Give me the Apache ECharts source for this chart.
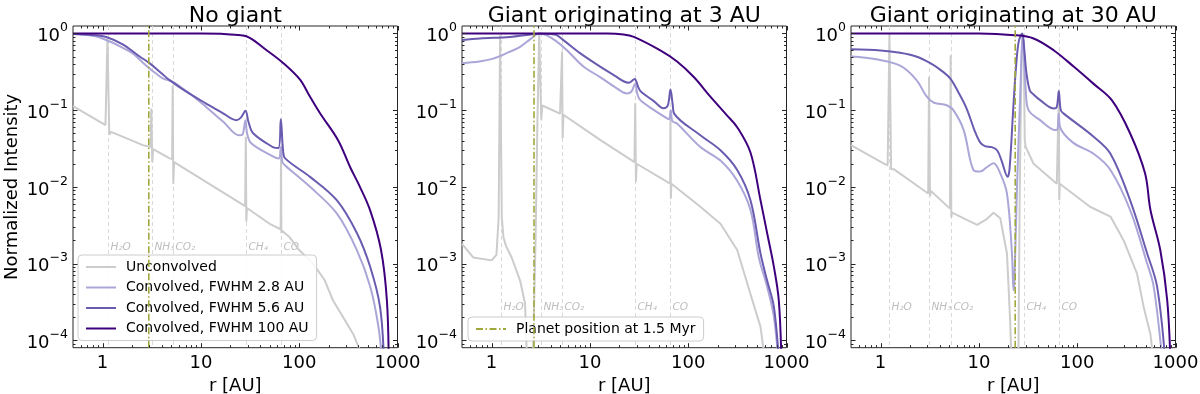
<!DOCTYPE html>
<html>
<head>
<meta charset="utf-8">
<script src="https://cdn.jsdelivr.net/npm/echarts@6.0.0/dist/echarts.min.js"></script>
<style>
  html, body { margin: 0; padding: 0; background: #fff; }
  #chart { width: 1200px; height: 394px; }
</style>
</head>
<body>
<div id="chart"></div>
<script>
// panel titles and legend names
const panelTitles = ['No giant', 'Giant originating at 3 AU', 'Giant originating at 30 AU'];
const curveNames = ['Unconvolved', 'Convolved, FWHM 2.8 AU', 'Convolved, FWHM 5.6 AU', 'Convolved, FWHM 100 AU'];
const planetName = 'Planet position at 1.5 Myr';
const snowNames = ['H\u2082O', 'NH\u2083', 'CO\u2082', 'CH\u2084', 'CO'];

// snowline radii [AU] and planet position per panel
const p1Snow = [1.13, 3.17, 5.19, 28.6, 65.4];
const p2Snow = [1.24, 3.17, 5.19, 29, 66];
const p3Snow = [1.23, 3.14, 5.19, 28.5, 65];
const planetPos = [2.95, 2.7, 23.4];

// tick values
const xTicks = [1, 10, 100, 1000];
const yTicks = [1e-4, 1e-3, 1e-2, 1e-1, 1];

// --- No giant ---
const p1Unconv = [[0.5,0.113],[1.0,0.067],[1.07,0.064],[1.12,0.86],[1.17,0.048],[1.22,0.052],[2.57,0.035],[3.08,0.033],[3.13,0.105],[3.2,0.021],[3.27,0.031],[4.8,0.0235],[5.1,0.023],[5.16,0.21],[5.24,0.011],[5.34,0.021],[28.2,0.0056],[28.6,0.045],[29.0,0.0035],[29.4,0.0053],[50,0.0033],[64.8,0.0028],[65.3,0.026],[65.9,0.0025],[66.5,0.0027],[80,0.0022],[100,0.0015],[138,0.001],[180,6.2e-4],[221,3.3e-4],[280,2e-4],[355,1.2e-4],[470,5e-5]];
const p1Fwhm28 = [[0.5,0.98],[0.8,0.93],[1.09,0.82],[1.5,0.68],[2.03,0.55],[2.5,0.43],[3.0,0.35],[3.5,0.3],[4.1,0.26],[5.2,0.234],[6.2,0.2],[7.7,0.165],[11.3,0.11],[17,0.07],[24.5,0.047],[26.5,0.048],[28.4,0.074],[29.5,0.05],[32.5,0.037],[54,0.025],[62,0.0235],[65,0.033],[67.5,0.021],[72,0.019],[129,0.01],[241,0.0045],[386,0.0015],[528,5e-4],[640,1.5e-4],[700,5e-5]];
const p1Fwhm56 = [[0.5,0.98],[0.8,0.95],[1.09,0.9],[1.6,0.72],[2.38,0.5],[3.0,0.41],[4.0,0.3],[4.8,0.246],[7.1,0.174],[11.3,0.122],[16.8,0.091],[23,0.074],[25.5,0.08],[28.4,0.098],[30.5,0.07],[34,0.05],[54,0.033],[61.5,0.032],[65,0.076],[68.5,0.03],[72,0.0235],[129,0.0135],[241,0.0067],[386,0.0025],[528,9e-4],[665,2.7e-4],[730,5e-5]];
const p1Fwhm100 = [[0.5,1.0],[10,1.0],[16,0.99],[22,0.96],[29,0.92],[47,0.6],[69,0.41],[102,0.25],[125,0.16],[163,0.091],[250,0.04],[330,0.018],[400,0.011],[525,0.005],[680,0.0015],[780,3.3e-4],[815,5e-5]];

// --- Giant originating at 3 AU ---
const p2Unconv = [[0.5,0.0018],[0.65,0.0012],[1.0,0.0011],[1.12,0.0013],[1.18,0.004],[1.22,0.95],[1.27,0.004],[1.32,0.0022],[1.4,0.0017],[1.6,0.0012],[1.95,6e-4],[2.19,3e-4],[2.3,5e-5],[2.62,5e-5],[2.8,0.002],[2.93,0.08],[3.05,0.96],[3.14,0.96],[3.2,0.075],[3.28,0.115],[3.4,0.112],[4.97,0.09],[5.15,0.085],[5.21,0.58],[5.28,0.043],[5.38,0.087],[12.7,0.041],[28.4,0.021],[28.9,0.123],[29.4,0.0117],[29.9,0.02],[65.5,0.011],[66,0.1],[66.6,0.007],[67.5,0.011],[133,0.0055],[213,0.0033],[315,0.0015],[430,4e-4],[544,1.5e-4],[610,5e-5]];
const p2Fwhm28 = [[0.5,0.41],[0.75,0.43],[1.04,0.47],[1.5,0.57],[1.95,0.67],[2.5,0.85],[3.05,1.0],[3.6,0.95],[4.5,0.8],[5.8,0.61],[8.6,0.37],[12.7,0.27],[18,0.2],[23.8,0.165],[26.5,0.175],[28.8,0.22],[30.5,0.16],[32.6,0.135],[45,0.1],[61,0.078],[64,0.076],[66.5,0.1],[69,0.072],[77,0.067],[133,0.033],[213,0.022],[315,0.012],[430,0.005],[523,0.0012],[635,5e-4],[745,2e-4],[830,5e-5]];
const p2Fwhm56 = [[0.5,0.82],[0.76,0.86],[1.54,0.9],[2.5,0.97],[3.1,0.99],[4.0,0.98],[4.6,0.95],[5.5,0.8],[8,0.55],[12.7,0.37],[18,0.28],[22,0.238],[25,0.228],[28.5,0.255],[31,0.2],[33,0.175],[45,0.13],[56,0.106],[62,0.115],[66,0.186],[69.5,0.12],[72,0.09],[133,0.047],[213,0.03],[315,0.0166],[430,0.0067],[544,0.00135],[635,6e-4],[745,2.7e-4],[840,5e-5]];
const p2Fwhm100 = [[0.5,1.0],[15,1.0],[22,0.97],[28,0.9],[52,0.6],[77,0.43],[114,0.27],[168,0.15],[249,0.085],[315,0.06],[430,0.028],[544,0.0067],[635,0.0025],[745,9e-4],[835,3.3e-4],[890,5e-5]];

// --- Giant originating at 30 AU ---
const p3Unconv = [[0.5,0.035],[1.07,0.0203],[1.18,0.019],[1.23,1.0],[1.28,0.017],[1.36,0.017],[3.05,0.0082],[3.11,0.27],[3.18,0.0075],[3.25,0.0088],[5.08,0.0052],[5.16,0.52],[5.24,0.004],[5.32,0.0046],[9.6,0.0032],[12,0.0038],[14.1,0.0046],[16.5,0.0039],[19.3,0.00135],[20.8,1.8e-4],[21.5,5e-5],[25.2,5e-5],[26,0.008],[27.1,0.4],[27.9,1.0],[28.6,0.5],[29.3,0.04],[30,0.033],[36,0.02],[62,0.011],[64.6,0.011],[65.1,0.17],[65.7,0.0067],[66.5,0.011],[135,0.0055],[218,0.0041],[297,0.002],[406,7.4e-4],[475,2.7e-4],[556,1.2e-4],[600,5e-5]];
const p3Fwhm28 = [[0.5,0.5],[0.9,0.46],[1.58,0.38],[2.3,0.25],[2.95,0.15],[3.5,0.125],[4.7,0.116],[5.5,0.1],[7.0,0.055],[8.8,0.0166],[10.3,0.0158],[12,0.018],[14.1,0.0203],[16.5,0.015],[19.3,0.0082],[21.7,0.00135],[22.5,4.5e-4],[23.0,6e-4],[24.4,0.01],[26.5,0.2],[27.8,0.95],[28.6,0.6],[30,0.18],[32,0.1],[42,0.074],[60,0.055],[63,0.056],[65,0.09],[67,0.06],[90,0.038],[147,0.027],[218,0.0166],[345,0.005],[515,0.001],[600,5e-4],[740,5e-5]];
const p3Fwhm56 = [[0.5,0.62],[1.0,0.6],[1.58,0.56],[2.3,0.5],[3.2,0.41],[4.0,0.34],[5.1,0.26],[6.2,0.17],[7.5,0.105],[9,0.055],[10.3,0.038],[11.5,0.034],[13.5,0.033],[15.3,0.03],[17,0.022],[19.6,0.0135],[20.5,0.017],[22.5,0.12],[24,0.4],[25.5,0.8],[27.6,1.0],[29,0.6],[30.5,0.3],[33,0.18],[36,0.16],[42,0.135],[58,0.105],[62,0.11],[65,0.178],[68,0.1],[73,0.09],[147,0.045],[218,0.027],[345,0.0067],[515,0.00135],[650,5e-4],[790,5e-5]];
const p3Fwhm100 = [[0.5,1.0],[10,1.0],[23,0.95],[36,0.86],[58,0.6],[92,0.37],[147,0.22],[225,0.135],[345,0.05],[490,0.015],[556,0.005],[700,0.0015],[824,3.3e-4],[890,5e-5]];

const panels = [
  { curves: [p1Unconv, p1Fwhm28, p1Fwhm56, p1Fwhm100], snow: p1Snow, snowLabelY: 1.65e-3 },
  { curves: [p2Unconv, p2Fwhm28, p2Fwhm56, p2Fwhm100], snow: p2Snow, snowLabelY: 2.7e-4 },
  { curves: [p3Unconv, p3Fwhm28, p3Fwhm56, p3Fwhm100], snow: p3Snow, snowLabelY: 2.7e-4 }
];

const FONT = 'DejaVu Sans';
const colors = ['#cccccc', '#aaa6d8', '#6b5bb0', '#3f007d'];
const planetColor = '#a0a83c';
const X_MIN = 0.5, X_MAX = 1000, Y_MIN = 8e-5, Y_MAX = 1.25;
const gridLefts = [73, 462, 851];
const GW = 324.5, GT = 26, GH = 321.7;

// minor tick positions (2..9 per decade)
function minorVals(lo, hi) {
  const out = [];
  for (let e = -6; e <= 4; e++) {
    for (let m = 2; m <= 9; m++) {
      const v = m * Math.pow(10, e);
      if (v > lo && v < hi) out.push(v);
    }
  }
  return out;
}
const xMinor = minorVals(X_MIN, X_MAX);
const yMinor = minorVals(Y_MIN, Y_MAX);

function isPow10(v) {
  const e = Math.log10(v);
  return Math.abs(e - Math.round(e)) < 1e-6;
}

const grid = [], xAxis = [], yAxis = [], series = [], title = [];

gridLefts.forEach(function (left, i) {
  grid.push({ left: left, top: GT, width: GW, height: GH, show: true, borderColor: '#262626', borderWidth: 1, backgroundColor: 'transparent', outerBoundsMode: 'none' });
  title.push({ text: panelTitles[i], left: left + GW / 2 - 5, top: 0, textAlign: 'center',
    textStyle: { fontFamily: FONT, fontSize: 22, fontWeight: 'normal', color: '#000' } });
  xAxis.push({
    type: 'log', gridIndex: i, min: X_MIN, max: X_MAX,
    axisLine: { show: false }, axisTick: { show: false }, splitLine: { show: false },
    axisLabel: { fontFamily: FONT, fontSize: 18, color: '#000', margin: 7,
      formatter: function (v) { return isPow10(v) ? String(Math.round(v)) : ''; } },
    name: 'r [AU]', nameLocation: 'middle', nameGap: 22,
    nameTextStyle: { fontFamily: FONT, fontSize: 18, color: '#000' }
  });
  yAxis.push({
    type: 'log', gridIndex: i, min: Y_MIN, max: Y_MAX,
    axisLine: { show: false }, axisTick: { show: false }, splitLine: { show: false },
    axisLabel: { margin: 5,
      formatter: function (v) {
        if (!isPow10(v)) return '';
        const e = Math.round(Math.log10(v));
        return '{b|10}{s|' + (e < 0 ? '\u2212' + (-e) : e) + '}';
      },
      rich: {
        b: { fontFamily: FONT, fontSize: 18, color: '#000', verticalAlign: 'bottom', lineHeight: 24 },
        s: { fontFamily: FONT, fontSize: 12.5, color: '#000', verticalAlign: 'top', lineHeight: 14 }
      } },
    name: i === 0 ? 'Normalized Intensity' : '', nameLocation: 'middle', nameGap: 52,
    nameTextStyle: { fontFamily: FONT, fontSize: 18, color: '#000' }
  });

  const p = panels[i];
  // snowlines
  series.push({
    type: 'custom', xAxisIndex: i, yAxisIndex: i, silent: true, z: 1,
    data: p.snow.map(function (r, k) { return [r, p.snowLabelY, k]; }),
    renderItem: function (params, api) {
      const cs = params.coordSys;
      const x = Math.round(api.coord([api.value(0), 1])[0]) + 0.5;
      const ty = api.coord([1, api.value(1)])[1];
      return { type: 'group', children: [
        { type: 'line', shape: { x1: x, y1: cs.y, x2: x, y2: cs.y + cs.height },
          style: { stroke: '#d9d9d9', lineWidth: 1, lineDash: [4, 3] } },
        { type: 'text', x: x + 2, y: ty,
          style: { text: snowNames[api.value(2)], fill: '#bdbdbd', font: 'italic 10.5px "DejaVu Sans"',
            textAlign: 'left', verticalAlign: 'middle', textVerticalAlign: 'middle' } }
      ] };
    }
  });
  // curves
  p.curves.forEach(function (d, k) {
    series.push({
      type: 'line', name: curveNames[k], xAxisIndex: i, yAxisIndex: i, data: d,
      symbol: 'none', showSymbol: false, smooth: k === 0 ? false : 0.35,
      clip: true, silent: true, z: 2 + k,
      lineStyle: { color: colors[k], width: 2 }, itemStyle: { color: colors[k] },
      emphasis: { disabled: true }
    });
  });
  // planet position
  series.push({
    type: 'line', name: planetName, xAxisIndex: i, yAxisIndex: i,
    data: [[planetPos[i], Y_MIN], [planetPos[i], Y_MAX]],
    symbol: 'none', showSymbol: false, clip: true, silent: true, z: 7,
    lineStyle: { color: planetColor, width: 1.6, type: [7, 2.5, 1.5, 2.5] }, itemStyle: { color: planetColor },
    emphasis: { disabled: true }
  });
  // ticks on all four sides (major + minor), inward
  series.push({
    type: 'custom', xAxisIndex: i, yAxisIndex: i, silent: true, z: 10,
    data: [[1, 1]],
    renderItem: function (params, api) {
      const cs = params.coordSys;
      const kids = [];
      const st = { stroke: '#262626', lineWidth: 1 };
      function add(x1, y1, x2, y2) { kids.push({ type: 'line', shape: { x1: x1, y1: y1, x2: x2, y2: y2 }, style: st }); }
      const bot = cs.y + cs.height, top = cs.y, lft = cs.x, rgt = cs.x + cs.width;
      function xt(v, len) { const x = Math.round(api.coord([v, 1])[0]) + 0.5; add(x, bot, x, bot - len); add(x, top, x, top + len); }
      function yt(v, len) { const y = Math.round(api.coord([1, v])[1]) + 0.5; add(lft, y, lft + len, y); add(rgt, y, rgt - len, y); }
      xTicks.forEach(function (v) { xt(v, 4.5); });
      xMinor.forEach(function (v) { xt(v, 2.5); });
      yTicks.forEach(function (v) { yt(v, 4.5); });
      yMinor.forEach(function (v) { yt(v, 2.5); });
      return { type: 'group', children: kids };
    }
  });
});

const legendCommon = {
  orient: 'vertical', itemWidth: 30, itemHeight: 14, itemGap: 6.5, selectedMode: false,
  backgroundColor: 'rgba(255,255,255,0.85)', borderColor: '#cccccc', borderWidth: 1, borderRadius: 4,
  padding: [5, 8, 5, 7],
  itemStyle: { opacity: 0 },
  textStyle: { fontFamily: FONT, fontSize: 14, color: '#000', padding: [0, 0, 0, 5] }
};

const chart = echarts.init(document.getElementById('chart'), null, { renderer: 'canvas' });
chart.setOption({
  animation: false,
  backgroundColor: '#ffffff',
  title: title,
  grid: grid,
  xAxis: xAxis,
  yAxis: yAxis,
  legend: [
    Object.assign({}, legendCommon, { data: curveNames, left: 78, top: 255 }),
    Object.assign({}, legendCommon, { data: [planetName], left: 468, top: 317 })
  ],
  series: series
});
</script>
</body>
</html>
